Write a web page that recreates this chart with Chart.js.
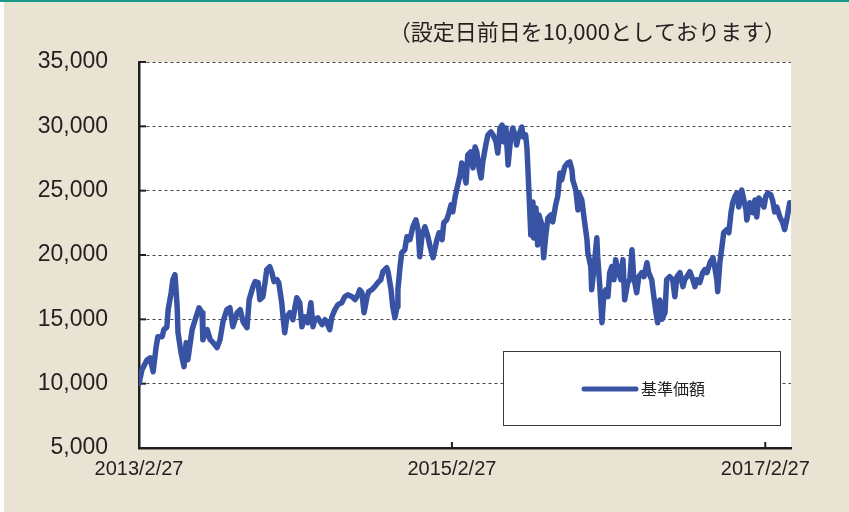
<!DOCTYPE html>
<html>
<head>
<meta charset="utf-8">
<script src="https://cdn.jsdelivr.net/npm/chart.js@4.4.1/dist/chart.umd.min.js"></script>
<style>
  html, body { margin: 0; padding: 0; background: #e8e3d2; }
  canvas { display: block; }
</style>
</head>
<body>
<canvas id="navChart" width="849" height="512"></canvas>
<script>
// 設定日(2013/2/27)からの経過日数
const days = [
  0, 7, 19, 26, 33, 40, 44, 54, 58, 65,
  68, 75, 79, 84, 89, 91, 98, 105, 110, 114,
  124, 131, 140, 147, 149, 159, 166, 173, 182, 189,
  196, 205, 212, 219, 229, 236, 243, 252, 257, 266,
  271, 278, 282, 289, 294, 298, 305, 310, 315, 322,
  326, 333, 336, 340, 345, 352, 359, 364, 368, 375,
  380, 387, 394, 401, 406, 410, 417, 427, 434, 438,
  445, 450, 457, 464, 473, 480, 487, 497, 504, 511,
  515, 520, 525, 532, 536, 543, 550, 557, 564, 569,
  578, 581, 588, 592, 597, 602, 604, 609, 613, 620,
  625, 632, 639, 646, 651, 655, 660, 667, 674, 679,
  686, 690, 695, 700, 707, 711, 718, 723, 728, 732,
  737, 742, 749, 753, 758, 763, 767, 774, 779, 784,
  788, 793, 798, 802, 809, 814, 821, 826, 833, 837,
  842, 847, 851, 856, 861, 867, 872, 877, 881, 886,
  893, 896, 902, 905, 909, 912, 914, 919, 921, 926,
  930, 933, 940, 944, 949, 954, 961, 965, 972, 977,
  982, 986, 993, 1000, 1005, 1010, 1012, 1019, 1024, 1026,
  1033, 1038, 1045, 1047, 1054, 1056, 1061, 1068, 1070, 1075,
  1080, 1084, 1089, 1094, 1098, 1103, 1108, 1112, 1117, 1124,
  1129, 1133, 1140, 1145, 1150, 1154, 1161, 1166, 1173, 1178,
  1185, 1189, 1196, 1201, 1206, 1210, 1215, 1220, 1227, 1231,
  1238, 1245, 1250, 1255, 1262, 1269, 1273, 1278, 1285, 1292,
  1297, 1301, 1308, 1315, 1320, 1325, 1332, 1339, 1343, 1348,
  1350, 1355, 1360, 1364, 1371, 1376, 1381, 1385, 1390, 1395,
  1399, 1406, 1411, 1416, 1418, 1425, 1432, 1437, 1441, 1446,
  1453, 1458, 1462, 1467, 1474, 1478, 1483, 1488, 1495, 1502,
  1506, 1511, 1518
];

// 基準価額(設定日前日を10,000)
const navValues = [
  10000, 11090, 11860, 12000, 10930, 12870, 13650, 13650, 14200, 14400,
  15750, 17070, 18080, 18470, 15980, 13960, 12410, 11320, 13190, 11860,
  14200, 14970, 15900, 15520, 13420, 14200, 13420, 13190, 12800, 13420,
  14820, 15750, 15900, 14430, 15520, 15750, 14800, 14350, 16530, 17540,
  17930, 17850, 16530, 16760, 17850, 18860, 19090, 18630, 17930, 18080,
  17850, 16290, 15200, 13960, 15200, 15520, 14970, 15980, 16680, 16290,
  14430, 15200, 14740, 16290, 14430, 14970, 15120, 14590, 14970, 14740,
  14200, 15200, 15750, 16140, 16290, 16760, 16910, 16760, 16530, 16910,
  17300, 17070, 15520, 16760, 17150, 17300, 17540, 17850, 18080, 18700,
  19010, 18700, 17300, 15980, 15130, 15980, 17300, 19090, 20180, 20410,
  21420, 21190, 22200, 22740, 21970, 19870, 21420, 22200, 21420, 20650,
  19790, 20410, 21190, 21730, 21190, 22510, 22740, 23280, 23900, 23350,
  24440, 25210, 26220, 27150, 26380, 25600, 27770, 28010, 26770, 28400,
  28010, 26770, 25990, 27230, 28550, 29330, 29560, 29330, 28780, 27930,
  29870, 30100, 28780, 29870, 27000, 29100, 29870, 29330, 28550, 29330,
  29950, 29180, 29330, 28320, 25440, 23110, 21560, 24120, 21320, 23660,
  20780, 23110, 22330, 19790, 21560, 22880, 23110, 22570, 23890, 24600,
  26380, 25830, 26850, 27150, 27230, 26610, 25830, 25050, 23500, 24820,
  24270, 22950, 21190, 20180, 19090, 17300, 18860, 21340, 19870, 17540,
  14740, 16760, 17300, 16760, 18630, 19090, 18080, 19640, 18860, 18080,
  19640, 16530, 17850, 18080, 20410, 18320, 17070, 18320, 18630, 18320,
  19400, 18630, 18080, 16760, 15520, 14740, 16500, 15000, 15520, 18080,
  18320, 18080, 16760, 18320, 18630, 17540, 18080, 18320, 18700, 18080,
  17540, 18080, 17850, 18630, 18860, 18630, 19400, 19790, 19090, 18080,
  17150, 19400, 20650, 21730, 21970, 21730, 23280, 24060, 24530, 24820,
  23730, 25050, 24270, 23500, 22720, 24060, 23280, 24270, 22950, 24430,
  24060, 23730, 24530, 24820, 24680, 24270, 23350, 23730, 22950, 22490,
  21970, 22720, 24060
];

const tickDays = [0, 730, 1461];
const tickLabels = ['2013/2/27', '2015/2/27', '2017/2/27'];
const yTicks = [5000, 10000, 15000, 20000, 25000, 30000, 35000];
const seriesLabel = '基準価額';
const noteText = '（設定日前日を10,000としております）';

const lineColor = '#3853a4';
const bgColor = '#e8e3d2';
const axisColor = '#231f20';

const points = days.map((d, i) => ({ x: d, y: navValues[i] }));

// 背景・注記・内向き目盛・凡例ボックス
const decorPlugin = {
  id: 'decor',
  beforeDraw(chart) {
    const { ctx, chartArea: a, width, height } = chart;
    ctx.save();
    ctx.fillStyle = bgColor;
    ctx.fillRect(0, 0, width, height);
    ctx.fillStyle = '#ffffff';
    ctx.fillRect(0, 0, 4, height);
    ctx.fillStyle = '#17998c';
    ctx.fillRect(0, 0, width, 2);
    ctx.fillStyle = '#ffffff';
    ctx.fillRect(a.left, a.top, a.right - a.left, a.bottom - a.top);

    ctx.fillStyle = '#231f20';
    ctx.font = '22px "Noto Sans CJK JP"';
    ctx.textAlign = 'right';
    ctx.textBaseline = 'middle';
    ctx.fillText(noteText, a.right - 5, 32);
    ctx.restore();
  },
  beforeDatasetsDraw(chart) {
    const { ctx, chartArea: a, scales } = chart;
    ctx.save();
    ctx.strokeStyle = axisColor;
    ctx.lineWidth = 2;
    yTicks.forEach(v => {
      const y = scales.y.getPixelForValue(v);
      ctx.beginPath();
      ctx.moveTo(a.left, y);
      ctx.lineTo(a.left + 7, y);
      ctx.stroke();
    });
    tickDays.forEach(d => {
      const x = scales.x.getPixelForValue(d);
      ctx.beginPath();
      ctx.moveTo(x, a.bottom);
      ctx.lineTo(x, a.bottom - 6);
      ctx.stroke();
    });
    ctx.restore();
  },
  afterDatasetsDraw(chart) {
    const { ctx, chartArea: a } = chart;
    const bx = a.right - 288, by = a.bottom - 97, bw = 277, bh = 74;
    ctx.save();
    ctx.fillStyle = '#ffffff';
    ctx.fillRect(bx, by, bw, bh);
    ctx.strokeStyle = '#3a3a3a';
    ctx.lineWidth = 1;
    ctx.strokeRect(bx + 0.5, by + 0.5, bw, bh);
    ctx.strokeStyle = lineColor;
    ctx.lineWidth = 5;
    ctx.lineCap = 'round';
    ctx.beginPath();
    ctx.moveTo(bx + 81, by + 38);
    ctx.lineTo(bx + 133, by + 38);
    ctx.stroke();
    ctx.fillStyle = '#231f20';
    ctx.font = '16px "Noto Sans CJK JP"';
    ctx.textAlign = 'left';
    ctx.textBaseline = 'middle';
    ctx.fillText(seriesLabel, bx + 138, by + 38);
    ctx.restore();
  }
};

new Chart(document.getElementById('navChart'), {
  type: 'line',
  data: {
    datasets: [{
      label: seriesLabel,
      data: points,
      borderColor: lineColor,
      borderWidth: 5.5,
      borderJoinStyle: 'round',
      borderCapStyle: 'round',
      pointRadius: 0,
      tension: 0,
      fill: false
    }]
  },
  options: {
    responsive: false,
    animation: false,
    devicePixelRatio: 1,
    layout: { padding: { top: 62, right: 58, left: 0, bottom: 0 } },
    plugins: {
      legend: { display: false },
      tooltip: { enabled: false },
      title: { display: false }
    },
    scales: {
      x: {
        type: 'linear',
        min: 0,
        max: 1521,
        afterFit: s => { s.height = 64; },
        afterBuildTicks: s => { s.ticks = tickDays.map(v => ({ value: v })); },
        grid: { display: false, drawTicks: false },
        border: { display: true, color: axisColor, width: 2.5 },
        ticks: {
          autoSkip: false,
          maxRotation: 0,
          padding: 9,
          color: '#231f20',
          font: { family: '"Liberation Sans Narrow", "Liberation Sans", sans-serif', size: 20 },
          callback: v => tickLabels[tickDays.indexOf(v)] || ''
        }
      },
      y: {
        min: 5000,
        max: 35000,
        afterFit: s => { s.width = 139; },
        afterBuildTicks: s => { s.ticks = yTicks.map(v => ({ value: v })); },
        grid: {
          drawTicks: false,
          color: ctx => ctx.tick && ctx.tick.value === 5000 ? 'rgba(0,0,0,0)' : '#444444',
          lineWidth: 1
        },
        border: { display: true, color: axisColor, width: 2.5, dash: [3, 3] },
        ticks: {
          padding: 31,
          color: '#231f20',
          font: { family: '"Liberation Sans", Arial, sans-serif', size: 23 },
          callback: v => v.toLocaleString('en-US')
        }
      }
    }
  },
  plugins: [decorPlugin]
});
</script>
</body>
</html>
